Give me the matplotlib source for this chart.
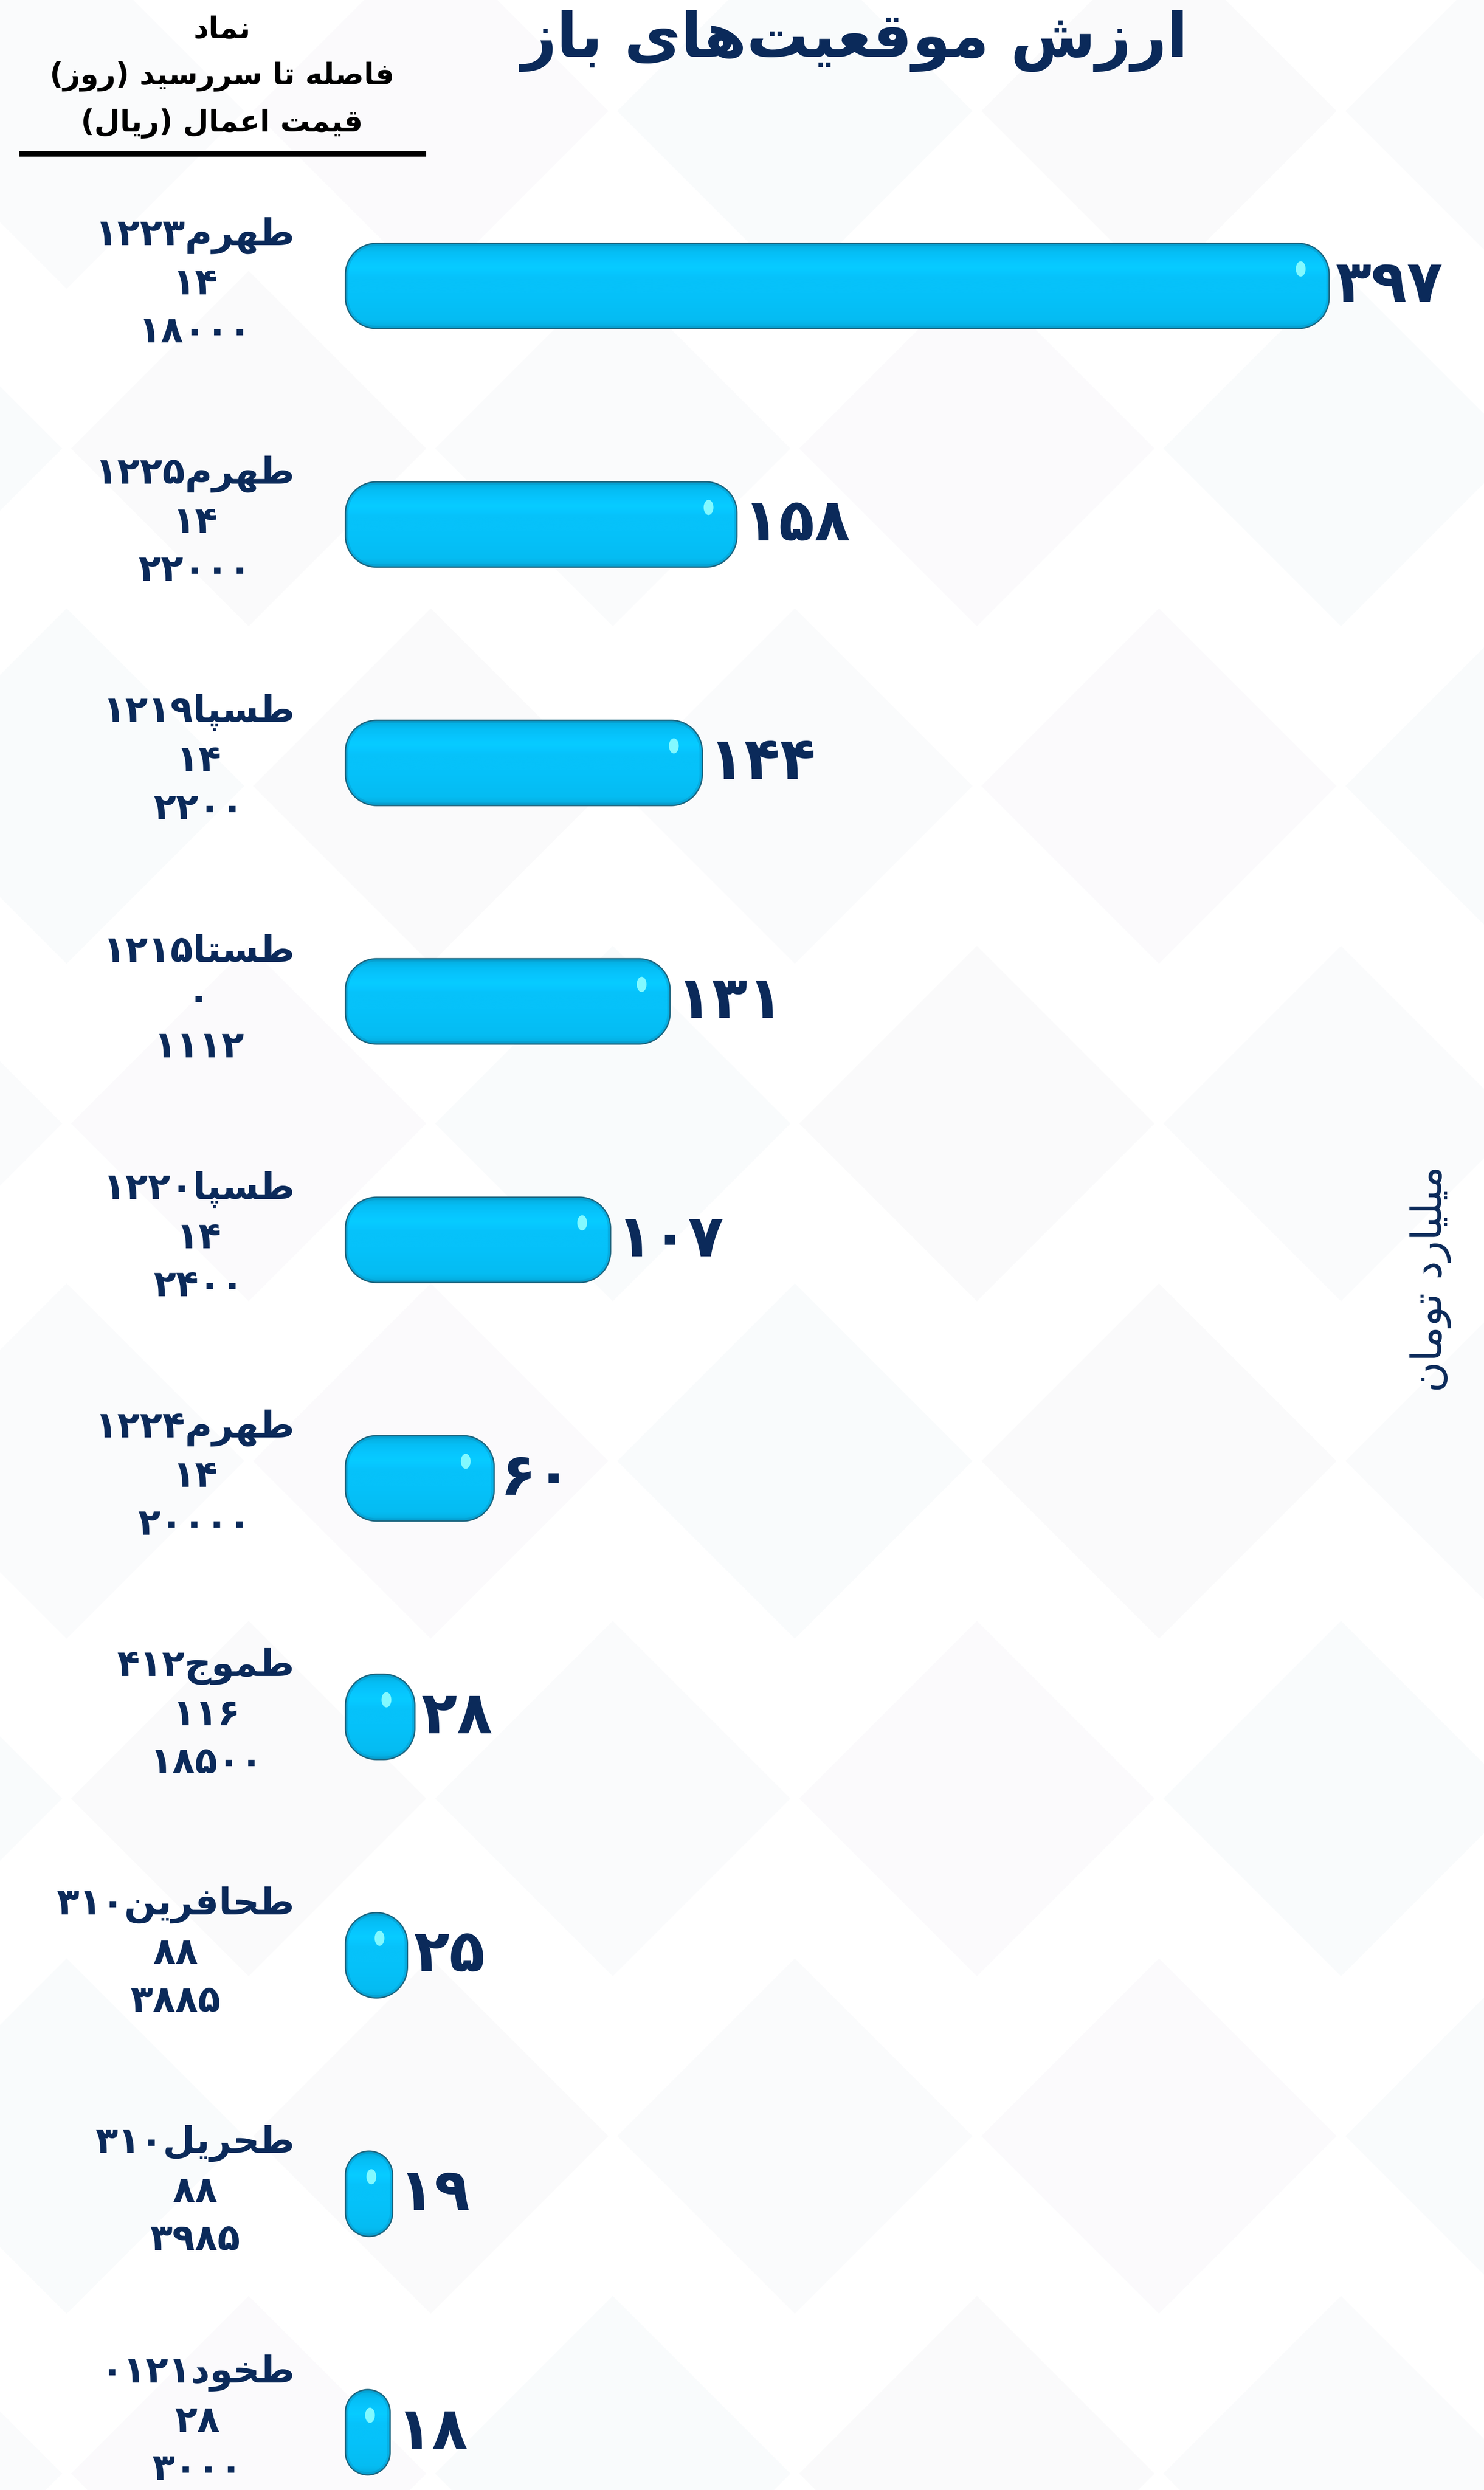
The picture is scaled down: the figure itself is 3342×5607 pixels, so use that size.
import matplotlib
matplotlib.use('Agg')
import matplotlib.pyplot as plt
from matplotlib.patches import PathPatch, Polygon, Ellipse
from matplotlib.path import Path
import numpy as np

# ---- data ----
symbols = ['طهرم۱۲۲۳', 'طهرم۱۲۲۵', 'طسپا۱۲۱۹', 'طستا۱۲۱۵', 'طسپا۱۲۲۰',
           'طهرم۱۲۲۴', 'طموج۴۱۲', 'طحافرین۳۱۰', 'طحریل۳۱۰', 'طخود۰۱۲۱']
days_to_expiry = [14, 14, 14, 0, 14, 14, 116, 88, 88, 28]
strike_prices = [18000, 22000, 2200, 1112, 2400, 20000, 18500, 3885, 3985, 3000]
values = [397, 158, 144, 131, 107, 60, 28, 25, 19, 18]

title = 'ارزش موقعیت‌های باز'
header_lines = ['نماد', 'فاصله تا سررسید (روز)', 'قیمت اعمال (ریال)']
unit_label = 'میلیارد تومان'

NAVY = '#0b2a5a'
BAR = '#06c2fa'

# ---- minimal Persian shaping (presentation forms + visual order) ----
FORMS = {
    'ا': ('\uFE8D', '\uFE8E', None, None),
    'د': ('\uFEA9', '\uFEAA', None, None),
    'ذ': ('\uFEAB', '\uFEAC', None, None),
    'ر': ('\uFEAD', '\uFEAE', None, None),
    'ز': ('\uFEAF', '\uFEB0', None, None),
    'ژ': ('\uFB8A', '\uFB8B', None, None),
    'و': ('\uFEED', '\uFEEE', None, None),
    'ب': ('\uFE8F', '\uFE90', '\uFE91', '\uFE92'),
    'پ': ('\uFB56', '\uFB57', '\uFB58', '\uFB59'),
    'ت': ('\uFE95', '\uFE96', '\uFE97', '\uFE98'),
    'ث': ('\uFE99', '\uFE9A', '\uFE9B', '\uFE9C'),
    'ج': ('\uFE9D', '\uFE9E', '\uFE9F', '\uFEA0'),
    'چ': ('\uFB7A', '\uFB7B', '\uFB7C', '\uFB7D'),
    'ح': ('\uFEA1', '\uFEA2', '\uFEA3', '\uFEA4'),
    'خ': ('\uFEA5', '\uFEA6', '\uFEA7', '\uFEA8'),
    'س': ('\uFEB1', '\uFEB2', '\uFEB3', '\uFEB4'),
    'ش': ('\uFEB5', '\uFEB6', '\uFEB7', '\uFEB8'),
    'ص': ('\uFEB9', '\uFEBA', '\uFEBB', '\uFEBC'),
    'ط': ('\uFEC1', '\uFEC2', '\uFEC3', '\uFEC4'),
    'ع': ('\uFEC9', '\uFECA', '\uFECB', '\uFECC'),
    'ف': ('\uFED1', '\uFED2', '\uFED3', '\uFED4'),
    'ق': ('\uFED5', '\uFED6', '\uFED7', '\uFED8'),
    'ک': ('\uFB8E', '\uFB8F', '\uFB90', '\uFB91'),
    'گ': ('\uFB92', '\uFB93', '\uFB94', '\uFB95'),
    'ل': ('\uFEDD', '\uFEDE', '\uFEDF', '\uFEE0'),
    'م': ('\uFEE1', '\uFEE2', '\uFEE3', '\uFEE4'),
    'ن': ('\uFEE5', '\uFEE6', '\uFEE7', '\uFEE8'),
    'ه': ('\uFEE9', '\uFEEA', '\uFEEB', '\uFEEC'),
    'ی': ('\uFBFC', '\uFBFD', '\uFBFE', '\uFBFF'),
}
DIGITS = '۰۱۲۳۴۵۶۷۸۹0123456789'


def fa_digits(n):
    return str(n).translate(str.maketrans('0123456789', '۰۱۲۳۴۵۶۷۸۹'))


def shape_line(s):
    out = []
    for i, c in enumerate(s):
        if c not in FORMS:
            out.append(c)
            continue
        prev = s[i - 1] if i > 0 else None
        nxt = s[i + 1] if i + 1 < len(s) else None
        jp = prev in FORMS and FORMS[prev][2] is not None
        jn = nxt in FORMS and FORMS[c][2] is not None
        iso, fin, ini, med = FORMS[c]
        out.append(med if jp and jn else fin if jp else ini if jn else iso)
    out = [c for c in out if c != '\u200c']
    # split into digit / non-digit runs, then lay out right-to-left
    runs, cur, cur_d = [], '', None
    for c in out:
        d = c in DIGITS
        if cur and d != cur_d:
            runs.append((cur, cur_d))
            cur = ''
        cur += c
        cur_d = d
    if cur:
        runs.append((cur, cur_d))
    vis = ''
    for txt, d in reversed(runs):
        if not d:
            txt = txt[::-1].translate(str.maketrans('()', ')('))
        vis += txt
    return vis


def fa(s):
    return '\n'.join(shape_line(l) for l in s.split('\n'))


plt.rcParams['font.family'] = ['DejaVu Sans']

# ---- figure / axes layout (pixel based) ----
W, H = 3342, 5607
fig = plt.figure(figsize=(W / 100, H / 100), dpi=100)
fig.patch.set_facecolor('white')
ax = fig.add_axes([0, 0, 1, 1])
ax.axis('off')

x0_px, px_per_unit = 778, 5.58
y0_px, px_per_row = 644, 537
ax.set_xlim(-x0_px / px_per_unit, (W - x0_px) / px_per_unit)
ax.set_ylim((H - y0_px) / px_per_row, -y0_px / px_per_row)

# faint diamond background
bg_cols = ['#fafbfc', '#fbfafc', '#f9fbfc', '#fafafb']
k = 0
for row in range(-1, 8):
    for col in range(-1, 6):
        cx = col * 820 + (410 if row % 2 else 0) + 150
        cy = row * 760 + 250
        r = 400
        pts = [(cx, cy - r), (cx + r, cy), (cx, cy + r), (cx - r, cy)]
        pts = [(px / W, 1 - py / H) for px, py in pts]
        ax.add_patch(Polygon(pts, closed=True, transform=ax.transAxes,
                             facecolor=bg_cols[k % 4], edgecolor='none', zorder=0))
        k += 1

ypos = np.arange(len(values))
bars = ax.barh(ypos, values, height=192 / px_per_row, left=0, color='none')


def rounded_bar(x0, x1, yc, hh, r_px):
    w_px = (x1 - x0) * px_per_unit
    r = min(r_px, w_px / 2, hh * px_per_row)
    rx, ry = r / px_per_unit, r / px_per_row
    n = 30
    pts = []
    # corners clockwise from top-right (top = smaller y, axis inverted)
    for a in np.linspace(np.pi / 2, 0, n):
        pts.append((x1 - rx + rx * np.cos(a), yc - hh + ry - ry * np.sin(a)))
    for a in np.linspace(0, -np.pi / 2, n):
        pts.append((x1 - rx + rx * np.cos(a), yc + hh - ry - ry * np.sin(a)))
    for a in np.linspace(-np.pi / 2, -np.pi, n):
        pts.append((x0 + rx + rx * np.cos(a), yc + hh - ry - ry * np.sin(a)))
    for a in np.linspace(np.pi, np.pi / 2, n):
        pts.append((x0 + rx + rx * np.cos(a), yc - hh + ry - ry * np.sin(a)))
    return Path(pts + [pts[0]], closed=True)


for b in bars:
    b.set_visible(False)
    bx0, bw = b.get_x(), b.get_width()
    by, bh = b.get_y(), b.get_height()
    yc, hh = by + bh / 2, bh / 2
    path = rounded_bar(bx0, bx0 + bw, yc, hh, 70)
    body = PathPatch(path, facecolor=BAR, edgecolor='none', zorder=3)
    ax.add_patch(body)
    # vertical shading clipped to the bar
    grad = np.linspace(0, 1, 100)[:, None]
    prof = np.interp(grad, [0, 0.1, 0.28, 0.4, 0.6, 0.9, 1], [0.88, 0.98, 1.05, 1.0, 1.0, 0.97, 0.88])
    base = np.array([6, 194, 250]) / 255.0
    img = np.clip(base[None, None, :] * prof[:, :, None], 0, 1)
    img = np.repeat(img, 2, axis=1)
    im = ax.imshow(img, extent=[bx0, bx0 + bw, by + bh, by], aspect='auto',
                   interpolation='bicubic', zorder=3.1)
    im.set_clip_path(body)
    # inner rim shadow
    rim = PathPatch(path, facecolor='none', edgecolor='#0a86b5', lw=9, alpha=0.3, zorder=3.2)
    ax.add_patch(rim)
    rim.set_clip_path(body)
    ax.add_patch(PathPatch(path, facecolor='none', edgecolor='#1d6680', lw=2.2, zorder=3.3))
    # specular highlight near the right end
    w_px = bw * px_per_unit
    hx = bx0 + bw - min(64, w_px * 0.45) / px_per_unit
    hy = yc - 0.2 * bh
    ax.add_patch(Ellipse((hx, hy), 22 / px_per_unit, 34 / px_per_row,
                         facecolor='#8afcff', edgecolor='none', alpha=0.95, zorder=3.4))

# value labels
for b, v in zip(bars, values):
    ax.text(b.get_x() + b.get_width() + 14 / px_per_unit, b.get_y() + b.get_height() / 2,
            fa_digits(v), ha='left', va='center', fontsize=95, fontweight='bold',
            color=NAVY, zorder=5)

# category labels (three lines)
renderer = fig.canvas.get_renderer()
for i, (s, d, p) in enumerate(zip(symbols, days_to_expiry, strike_prices)):
    txt = fa(s) + '\n' + fa_digits(d) + '\n' + fa_digits(p)
    t = ax.text(-(778 - 664) / px_per_unit, ypos[i] - 0.01, txt, ha='right', va='center',
                multialignment='center', fontsize=60, fontweight='bold', color=NAVY,
                linespacing=1.42, zorder=5)
    # keep the lowest block inside the canvas
    bb = t.get_window_extent(renderer)
    if bb.y0 < 6:
        t.set_y(ypos[i] - 0.01 - (6 - bb.y0) / px_per_row)

# title
fig.text(1925 / W, 1 - 92 / H, fa(title), ha='center', va='center', fontsize=100,
         fontweight='bold', color=NAVY)

# header
for yy, line in zip([66, 172, 278], header_lines):
    fig.text(500 / W, 1 - yy / H, fa(line), ha='center', va='center', fontsize=48,
             fontweight='bold', color='black')
ax.add_line(plt.Line2D([43 / W, 959 / W], [1 - 346 / H, 1 - 346 / H], transform=ax.transAxes,
                       color='black', lw=9, solid_capstyle='butt', zorder=5))

# unit label (vertical)
fig.text(3222 / W, 1 - 2880 / H, fa(unit_label), ha='center', va='center', rotation=90,
         fontsize=68, color=NAVY)

fig.savefig('out.png', dpi=100, facecolor='white')
